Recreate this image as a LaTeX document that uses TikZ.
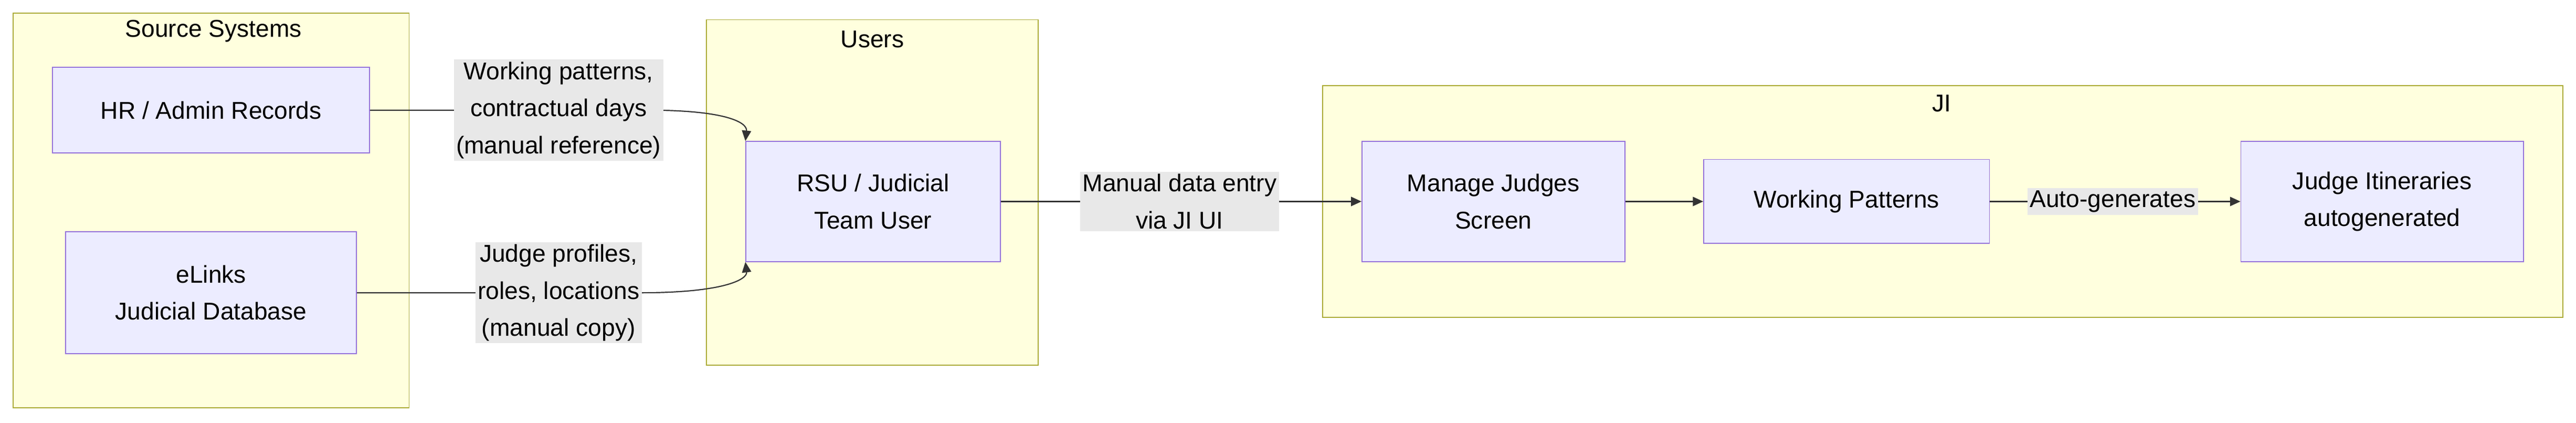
\documentclass[tikz,border=0pt]{standalone}
\usepackage{fontspec}
\setmainfont{Liberation Sans}
\usetikzlibrary{positioning, arrows.meta}
\definecolor{clfill}{HTML}{FFFFDE}
\definecolor{cldraw}{HTML}{AAAA33}
\definecolor{ndfill}{HTML}{ECECFF}
\definecolor{nddraw}{HTML}{9370DB}
\definecolor{lblbg}{HTML}{E8E8E8}
\definecolor{edge}{HTML}{333333}
\begin{document}
\begin{tikzpicture}[
    x=0.05cm, y=-0.05cm,
    >={Triangle[length=9pt,width=8pt]},
    font=\fontsize{21}{32}\selectfont,
    cluster/.style={draw=cldraw, fill=clfill, line width=0.8pt},
    box/.style={draw=nddraw, fill=ndfill, line width=0.8pt, align=center, inner sep=0pt},
    lbl/.style={fill=lblbg, align=center, inner sep=2pt},
    flow/.style={->, draw=edge, line width=1pt}
]
    \useasboundingbox (0,0) rectangle (1568,257);

    % --- clusters ---
    \draw[cluster] (8,8) rectangle (249,248);
    \node (srcT) at (130,19) {Source Systems};
    \draw[cluster] (430,12) rectangle (632,222);
    \node (usrT) at (531,24) {Users};
    \draw[cluster] (805,52) rectangle (1560,193);
    \node (jiT) at (1182,63) {JI};

    % --- nodes ---
    \node[box, minimum width=193*0.05cm, minimum height=52*0.05cm] (hr) at (128.5,67) {HR / Admin Records};
    \node[box, minimum width=177*0.05cm, minimum height=74*0.05cm] (elinks) at (128.5,178) {eLinks\\Judicial Database};
    \node[box, minimum width=155*0.05cm, minimum height=73*0.05cm] (rsu) at (531.5,122.5) {RSU / Judicial\\Team User};
    \node[box, minimum width=160*0.05cm, minimum height=73*0.05cm] (manage) at (909,122.5) {Manage Judges\\Screen};
    \node[box, minimum width=174*0.05cm, minimum height=51*0.05cm] (wp) at (1124,122.5) {Working Patterns};
    \node[box, minimum width=172*0.05cm, minimum height=73*0.05cm] (itin) at (1450,122.5) {Judge Itineraries\\autogenerated};

    % --- connectors ---
    \coordinate (bend1) at (395,67);
    \coordinate (bend2) at (390,178);
    \draw[flow] (hr.east) -- (bend1) .. controls (440,67) and (455,74) .. (rsu.north west);
    \draw[flow] (elinks.east) -- (bend2) .. controls (440,178) and (455,170) .. (rsu.south west);
    \draw[flow] (rsu) -- (manage);
    \draw[flow] (manage) -- (wp);
    \draw[flow] (wp) -- (itin);

    % --- edge labels ---
    \node[lbl] (l1) at (340,67) {Working patterns,\\contractual days\\(manual reference)};
    \node[lbl] (l2) at (340,178) {Judge profiles,\\roles, locations\\(manual copy)};
    \node[lbl] (l3) at (718,122.5) {Manual data entry\\via JI UI};
    \node[lbl] (l4) at (1286,122.5) {Auto-generates};
\end{tikzpicture}
\end{document}
